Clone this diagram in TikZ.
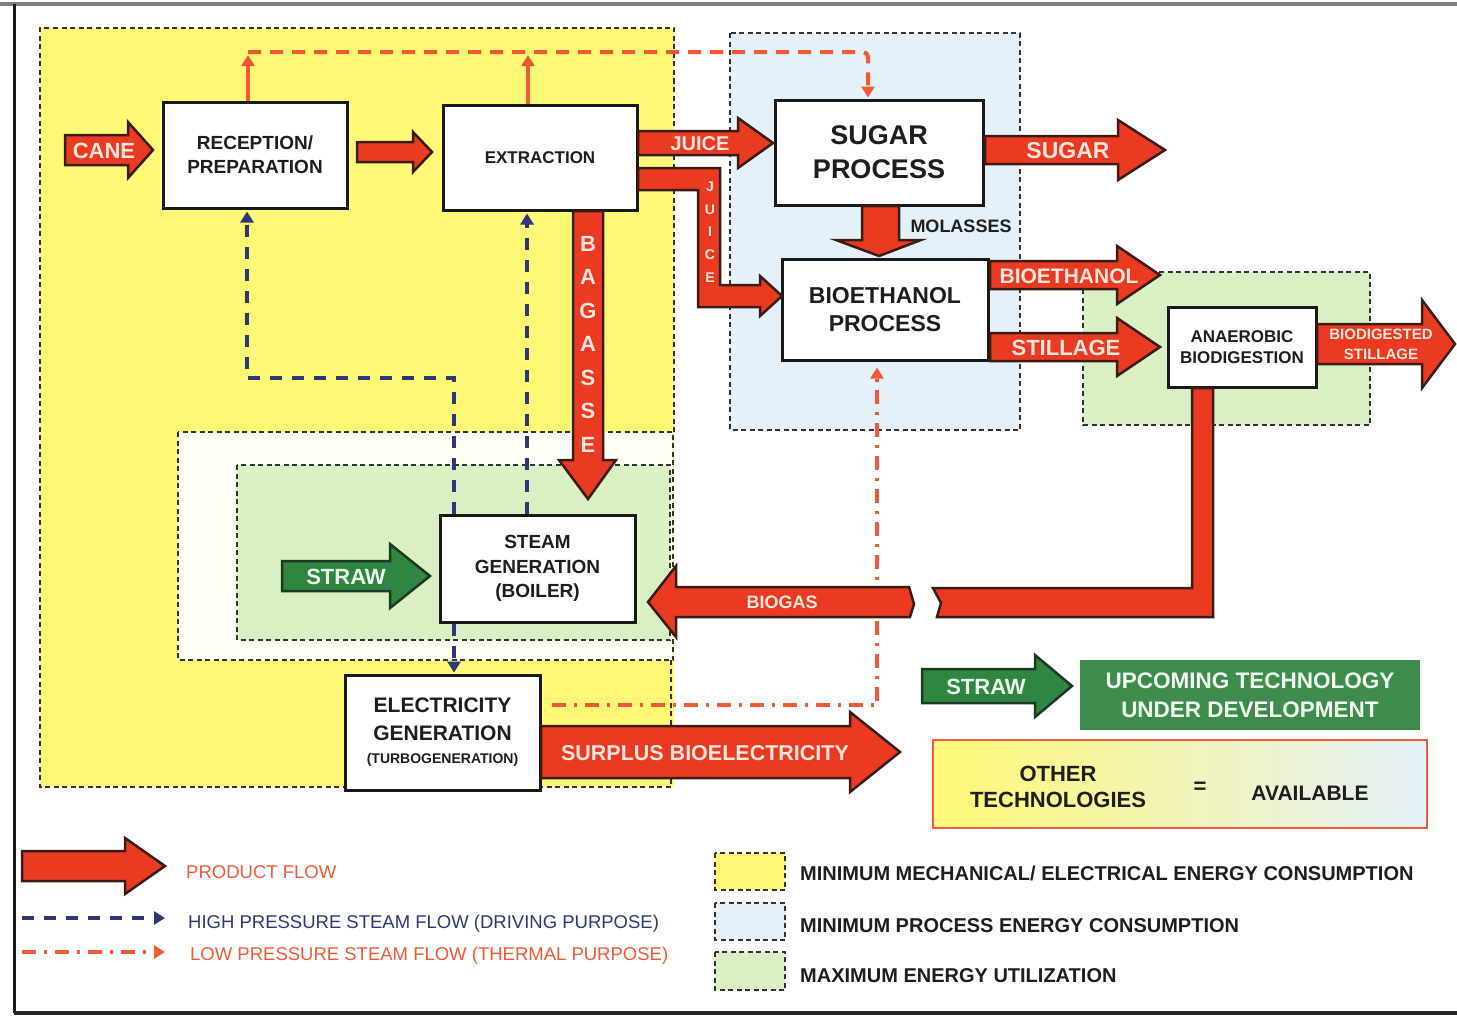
\documentclass[tikz,border=0pt]{standalone}
\usepackage{fontspec}
\setmainfont{Liberation Sans}
\usetikzlibrary{arrows.meta,calc}
\definecolor{yel}{HTML}{FFF876}
\definecolor{lblue}{HTML}{E4F0FA}
\definecolor{lgreen}{HTML}{D8F0C2}
\definecolor{arred}{HTML}{EA3A22}
\definecolor{arline}{HTML}{3A1C14}
\definecolor{strawg}{HTML}{2F8542}
\definecolor{strawline}{HTML}{1C3A22}
\definecolor{techg}{HTML}{3E8C4C}
\definecolor{lpred}{HTML}{F05A36}
\definecolor{hpblue}{HTML}{2E3878}
\definecolor{lbl}{HTML}{FFE6DC}
\definecolor{boxtext}{HTML}{1E1E1E}
\definecolor{otherred}{HTML}{F25A40}
\newcommand\fsz[2]{\fontsize{#1}{#2}\selectfont}
% style, x1, tip x, yc, shaft half, head half, head length
\newcommand\harr[7][fat]{%
  \draw[#1] (#2,#4-#5) -- (#3-#7,#4-#5) -- (#3-#7,#4-#6) -- (#3,#4) -- (#3-#7,#4+#6) -- (#3-#7,#4+#5) -- (#2,#4+#5) -- cycle;}
\begin{document}
\begin{tikzpicture}[x=1pt,y=-1pt,
 zone/.style={draw=black!80, line width=2pt, dash pattern=on 5pt off 3.5pt},
 proc/.style={draw=black!90, line width=3pt, fill=white, align=center, text=boxtext, inner sep=0pt},
 fat/.style={fill=arred, draw=arline, line width=2.5pt, line join=miter},
 fatg/.style={fill=strawg, draw=strawline, line width=2.5pt, line join=miter},
 lbltxt/.style={text=lbl, inner sep=0pt, align=center},
 lp/.style={draw=lpred, line width=4pt, dash pattern=on 13pt off 9pt},
 lpsolid/.style={draw=lpred, line width=4pt},
 lpdd/.style={draw=lpred, line width=3.5pt, dash pattern=on 14pt off 8pt on 3pt off 8pt},
 hp/.style={draw=hpblue, line width=3.5pt, dash pattern=on 12pt off 10pt},
 tipa/.style={-{Triangle[length=11pt,width=13pt]}},
 legtxt/.style={anchor=west, inner sep=0pt, font=\fsz{18.5}{20}},
 legtxtb/.style={anchor=west, inner sep=0pt, text=boxtext, font=\bfseries\fsz{20}{22}},
]
\useasboundingbox (0,0) rectangle (1457,1017);
% frame
\draw[line width=4pt, black!50] (0,4) -- (1457,4);
\draw[line width=3pt, black!90] (14,4) -- (14,1013);
\draw[line width=4pt, black!85] (14,1013) -- (1457,1013);

% zones
\fill[yel] (40,28) rectangle (674,787);
\draw[zone] (671,660) -- (671,787) -- (40,787) -- (40,28) -- (674,28) -- (674,432);
\draw[zone, fill=white!97!yellow] (178,432) rectangle (673,660);
\draw[zone, fill=lgreen] (237,465) rectangle (670,640);
\draw[zone, fill=lblue] (730,33) rectangle (1020,430);
\draw[zone, fill=lgreen] (1083,272) rectangle (1370,425);

% process boxes
\node[proc, minimum width=184, minimum height=106, font=\bfseries\fsz{19}{24}] (rec) at (255,155) {RECEPTION/\\PREPARATION};
\node[proc, minimum width=194, minimum height=105, font=\bfseries\fsz{17}{20}] (ext) at (540,157.5) {EXTRACTION};
\node[proc, minimum width=208, minimum height=105, font=\bfseries\fsz{27}{34}] (sug) at (879,152.5) {SUGAR\\PROCESS};
\node[proc, minimum width=206, minimum height=101, font=\bfseries\fsz{23}{28}] (bio) at (885,309.5) {BIOETHANOL\\PROCESS};
\node[proc, minimum width=148, minimum height=80, font=\bfseries\fsz{17}{21}] (ana) at (1242,347) {ANAEROBIC\\BIODIGESTION};
\node[proc, minimum width=195, minimum height=107, font=\bfseries\fsz{19}{24.5}] (boil) at (537.5,568.5) {STEAM\\GENERATION\\(BOILER)};
\node[proc, minimum width=195, minimum height=115, font=\bfseries\fsz{21}{28}] (elec) at (442.5,732.5) {ELECTRICITY\\GENERATION\\[-5pt]{\fsz{14}{17}(TURBOGENERATION)}};

% coordinates for steam lines
\coordinate (lpL) at (248,52);
\coordinate (lpM) at (528,52);
\coordinate (lpR) at (868,52);
\coordinate (hpc) at (454,378);
\coordinate (hpl) at (247,378);
\coordinate (hpm) at (527,300);
\coordinate (lpc) at (877,705);

% low pressure (top)
\draw[lpsolid, tipa] (rec.north -| lpL) -- ($(lpL)+(0,3)$);
\draw[lpsolid, tipa] (ext.north -| lpM) -- ($(lpM)+(0,3)$);
\draw[lp, rounded corners=5pt, tipa] (lpL) -- (lpR) -- ($(sug.north -| lpR)+(0,-1)$);
% low pressure dash-dot
\draw[lpdd, tipa] ($(elec.east |- lpc)+(10,0)$) -- (lpc) -- ($(bio.south -| lpc)+(0,6)$);
% high pressure
\draw[hp, tipa] (boil.north -| hpc) -- (hpc) -- (hpl) -- ($(rec.south -| hpl)+(0,2)$);
\draw[hp, tipa] (boil.north -| hpm) -- ($(ext.south -| hpm)+(0,2)$);
\draw[hp, tipa] (boil.south -| hpc) -- ($(elec.north -| hpc)+(0,-1)$);

% product flow arrows
\harr{65}{153}{150}{15}{28}{25}
\harr{357}{432}{152}{10}{20}{19}
\harr{638}{773}{143}{12}{25}{35}
\harr{985}{1165}{150}{14}{30}{47}
\harr{990}{1160}{275}{14}{29}{43}
\harr{990}{1160}{347}{14}{29}{43}
\harr{1317}{1455}{344}{20}{44}{33}
\harr{541}{900}{752}{26}{40}{50}
\harr[fatg]{282}{430}{576}{15}{32}{40}
% juice bent
\draw[fat] (638,168) -- (720,168) -- (720,285) -- (760,285) -- (760,276) -- (782,296) -- (760,316) -- (760,307) -- (698,307) -- (698,190) -- (638,190) -- cycle;
% bagasse
\draw[fat] (573,211) -- (603,211) -- (603,460) -- (616,460) -- (588,499) -- (559,460) -- (573,460) -- cycle;
% molasses
\draw[fat] (862,206) -- (899,206) -- (899,240) -- (921,240) -- (879,256) -- (836,240) -- (862,240) -- cycle;
% biogas
\draw[fat] (909,587) -- (676,587) -- (676,566) -- (648,602) -- (676,637) -- (676,617) -- (910,617) -- (914,604) -- cycle;
\draw[fat] (1213,388) -- (1213,617) -- (937,617) -- (941,603) -- (933,588) -- (1192,588) -- (1192,388) -- cycle;

% arrow labels
\node[lbltxt, font=\bfseries\fsz{22}{22}] (tcane) at (104,151) {CANE};
\node[lbltxt, font=\bfseries\fsz{20}{20}] (tjuice) at (700,144) {JUICE};
\node[lbltxt, font=\bfseries\fsz{14}{22.7}] (tjuice2) at (710,232) {J\\U\\I\\C\\E};
\node[lbltxt, font=\bfseries\fsz{22}{33.5}] (tbag) at (588,344) {B\\A\\G\\A\\S\\S\\E};
\node[lbltxt, font=\bfseries\fsz{23}{23}] (tsugar) at (1068,151) {SUGAR};
\node[lbltxt, font=\bfseries\fsz{21}{21}] (tbioe) at (1069,276) {BIOETHANOL};
\node[lbltxt, font=\bfseries\fsz{22}{22}] (tstill) at (1066,348) {STILLAGE};
\node[lbltxt, font=\bfseries\fsz{15}{20}] (tbdst) at (1381,344) {BIODIGESTED\\STILLAGE};
\node[lbltxt, font=\bfseries\fsz{18}{18}] (tbiogas) at (782,602) {BIOGAS};
\node[lbltxt, font=\bfseries\fsz{21.5}{22}] (tsurp) at (705,753) {SURPLUS BIOELECTRICITY};
\node[lbltxt, font=\bfseries\fsz{22}{22}, text=white!92!green] (tstraw) at (346,577) {STRAW};
\node[inner sep=0pt, text=boxtext, font=\bfseries\fsz{18}{18}] (tmol) at (961,226) {MOLASSES};

% legend right
\harr[fatg]{922}{1072}{686}{17}{31}{37}
\node[lbltxt, font=\bfseries\fsz{22}{22}, text=white!92!green] (tstraw2) at (986,687) {STRAW};
\node[fill=techg, minimum width=340, minimum height=70, inner sep=0pt, text=white!95!green, font=\bfseries\fsz{22.5}{29}, align=center] (upc) at (1250,695) {UPCOMING TECHNOLOGY\\UNDER DEVELOPMENT};
\node[draw=otherred, line width=2.5pt, minimum width=494, minimum height=88, inner sep=0pt, left color=yel, middle color=lgreen, right color=lblue] (oth) at (1180,784) {};
\node[inner sep=0pt, text=boxtext, font=\bfseries\fsz{22}{26}, align=center] (toth) at (1058,787) {OTHER\\TECHNOLOGIES};
\node[inner sep=0pt, text=boxtext, font=\bfseries\fsz{22}{22}] (teq) at (1200,788) {=};
\node[inner sep=0pt, text=boxtext, font=\bfseries\fsz{21}{22}] (tav) at (1310,793) {AVAILABLE};

% legend bottom left
\harr{22}{165}{866}{15}{28}{40}
\coordinate (lg1a) at (22,918);
\coordinate (lg1b) at (165,918);
\coordinate (lg2a) at (22,952);
\coordinate (lg2b) at (165,952);
\draw[hp, tipa] (lg1a) -- (lg1b);
\draw[lpdd, tipa] (lg2a) -- (lg2b);
\node[legtxt, text=lpred] (tprod) at (186,872) {PRODUCT FLOW};
\node[legtxt, text=hpblue] (thp) at (188,924) {HIGH PRESSURE STEAM FLOW (DRIVING PURPOSE)};
\node[legtxt, text=lpred] (tlp) at (190,956) {LOW PRESSURE STEAM FLOW (THERMAL PURPOSE)};

% legend bottom right
\draw[zone, fill=yel] (715,853) rectangle (785,890);
\draw[zone, fill=lblue] (715,903) rectangle (785,940);
\draw[zone, fill=lgreen] (715,952) rectangle (785,990);
\node[legtxtb] (tz1) at (800,873) {MINIMUM MECHANICAL/ ELECTRICAL ENERGY CONSUMPTION};
\node[legtxtb] (tz2) at (800,926) {MINIMUM PROCESS ENERGY CONSUMPTION};
\node[legtxtb] (tz3) at (800,976) {MAXIMUM ENERGY UTILIZATION};
\end{tikzpicture}
\end{document}
